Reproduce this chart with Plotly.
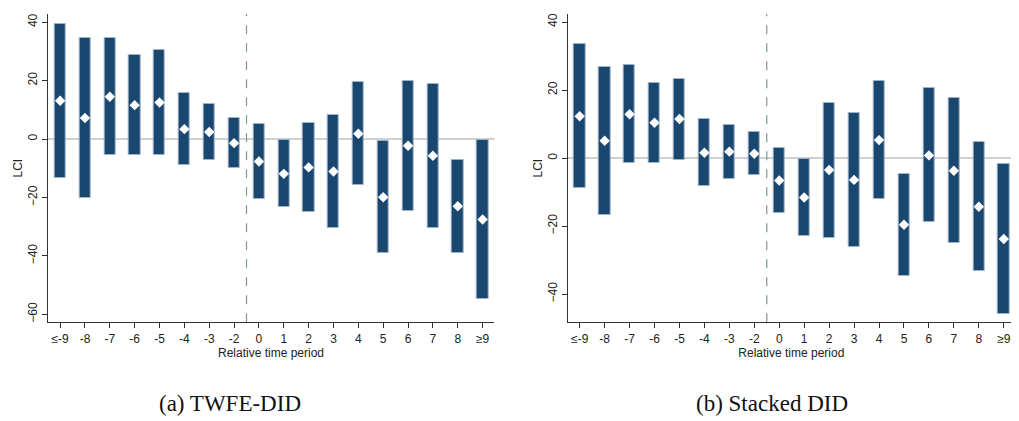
import plotly.graph_objects as go

labels = ["≤-9", "-8", "-7", "-6", "-5", "-4", "-3", "-2",
          "0", "1", "2", "3", "4", "5", "6", "7", "8", "≥9"]

twfe_est = [13.1, 7.2, 14.5, 11.6, 12.5, 3.4, 2.4, -1.4,
            -7.7, -11.9, -9.7, -11.1, 1.8, -19.9, -2.3, -5.7, -23.0, -27.5]
twfe_lo = [-13.2, -20.3, -5.4, -5.5, -5.6, -9.0, -7.0, -9.8,
           -20.4, -23.4, -25.1, -30.3, -15.8, -39.0, -24.5, -30.3, -38.9, -54.7]
twfe_hi = [39.5, 34.6, 34.6, 28.9, 30.6, 15.9, 12.0, 7.1,
           5.0, -0.2, 5.6, 8.1, 19.5, -0.7, 20.0, 18.8, -7.2, -0.2]

stack_est = [12.3, 5.1, 12.9, 10.4, 11.5, 1.6, 1.9, 1.3,
             -6.6, -11.6, -3.5, -6.4, 5.3, -19.6, 0.8, -3.7, -14.3, -23.8]
stack_lo = [-8.8, -16.6, -1.5, -1.4, -0.5, -8.1, -6.1, -5.1,
            -16.1, -22.9, -23.4, -26.1, -12.1, -34.6, -18.9, -25.0, -33.3, -46.0]
stack_hi = [33.5, 26.9, 27.5, 22.2, 23.4, 11.4, 9.7, 7.6,
            3.1, -0.2, 16.3, 13.2, 22.7, -4.6, 20.6, 17.6, 4.7, -1.8]

captions = ["(a) TWFE-DID", "(b) Stacked DID"]
ytick_left = [-60, -40, -20, 0, 20, 40]
ytick_right = [-40, -20, 0, 20, 40]

# page has an 8px body margin; figure sized to fill the rest of the window
OFF = 8
W, H = 1019 - OFF, 421 - OFF
NAVY = "#1a476f"
pos = list(range(len(labels)))


def fx(p):
    return (p - OFF) / W


def fy(p):
    return 1 - (p - OFF) / H


fig = go.Figure()

panels = [
    (twfe_est, twfe_lo, twfe_hi, "x", "y"),
    (stack_est, stack_lo, stack_hi, "x2", "y2"),
]
for est, lo, hi, xa, ya in panels:
    fig.add_trace(go.Bar(
        x=pos, y=[h - l for h, l in zip(hi, lo)], base=lo,
        width=0.45, marker=dict(color=NAVY, line=dict(color="#9fb3c6", width=1)),
        xaxis=xa, yaxis=ya, showlegend=False, hoverinfo="skip"))
    fig.add_trace(go.Scatter(
        x=pos, y=est, mode="markers",
        marker=dict(symbol="diamond", color="white", size=8, line=dict(width=0)),
        xaxis=xa, yaxis=ya, showlegend=False))

ydom = [fy(322.3), fy(14)]
axis_common = dict(showgrid=False, zeroline=False, showline=True, linecolor="#333333",
                   linewidth=1, ticks="outside", ticklen=5, tickcolor="#333333",
                   tickfont=dict(family="Liberation Sans, Arial", size=12, color="#222222"))

fig.update_layout(
    width=W, height=H, margin=dict(l=0, r=0, t=0, b=0),
    plot_bgcolor="white", paper_bgcolor="white", bargap=0,
    font=dict(family="Liberation Sans, Arial", size=12, color="#222222"),
    xaxis=dict(domain=[fx(47.7), fx(494.3)], range=[-0.5, 17.47], tickmode="array",
               tickvals=pos, ticktext=labels, anchor="y",
               title=dict(text="Relative time period", standoff=0,
                          font=dict(size=12)), **axis_common),
    yaxis=dict(domain=ydom, range=[-62.7, 42.8], tickmode="array", tickvals=ytick_left,
               tickangle=-90, anchor="x",
               title=dict(text="LCI", standoff=0, font=dict(size=12)), **axis_common),
    xaxis2=dict(domain=[fx(567.7), fx(1015)], range=[-0.48, 17.45], tickmode="array",
                tickvals=pos, ticktext=labels, anchor="y2",
                title=dict(text="Relative time period", standoff=0,
                           font=dict(size=12)), **axis_common),
    yaxis2=dict(domain=ydom, range=[-48.3, 42.4], tickmode="array", tickvals=ytick_right,
                tickangle=-90, anchor="x2",
                title=dict(text="LCI", standoff=0, font=dict(size=12)), **axis_common),
)

for xr, yr in [("x", "y"), ("x2", "y2")]:
    # zero reference line
    fig.add_shape(type="line", xref=f"{xr} domain", yref=yr, x0=0, x1=1, y0=0, y1=0,
                  line=dict(color="#d0d0d0", width=2), layer="below")
    # treatment onset dashed line
    fig.add_shape(type="line", xref=xr, yref=f"{yr} domain", x0=7.5, x1=7.5, y0=0, y1=1,
                  line=dict(color="#7a9a8e", width=1.2, dash="dash"), layer="below")

for cap, cx in zip(captions, [230, 772]):
    fig.add_annotation(text=cap, xref="paper", yref="paper", x=fx(cx), y=fy(403),
                       xanchor="center", yanchor="middle", showarrow=False,
                       font=dict(family="Liberation Serif, Times New Roman", size=23,
                                 color="#111111"))

fig.write_html("out.html")
